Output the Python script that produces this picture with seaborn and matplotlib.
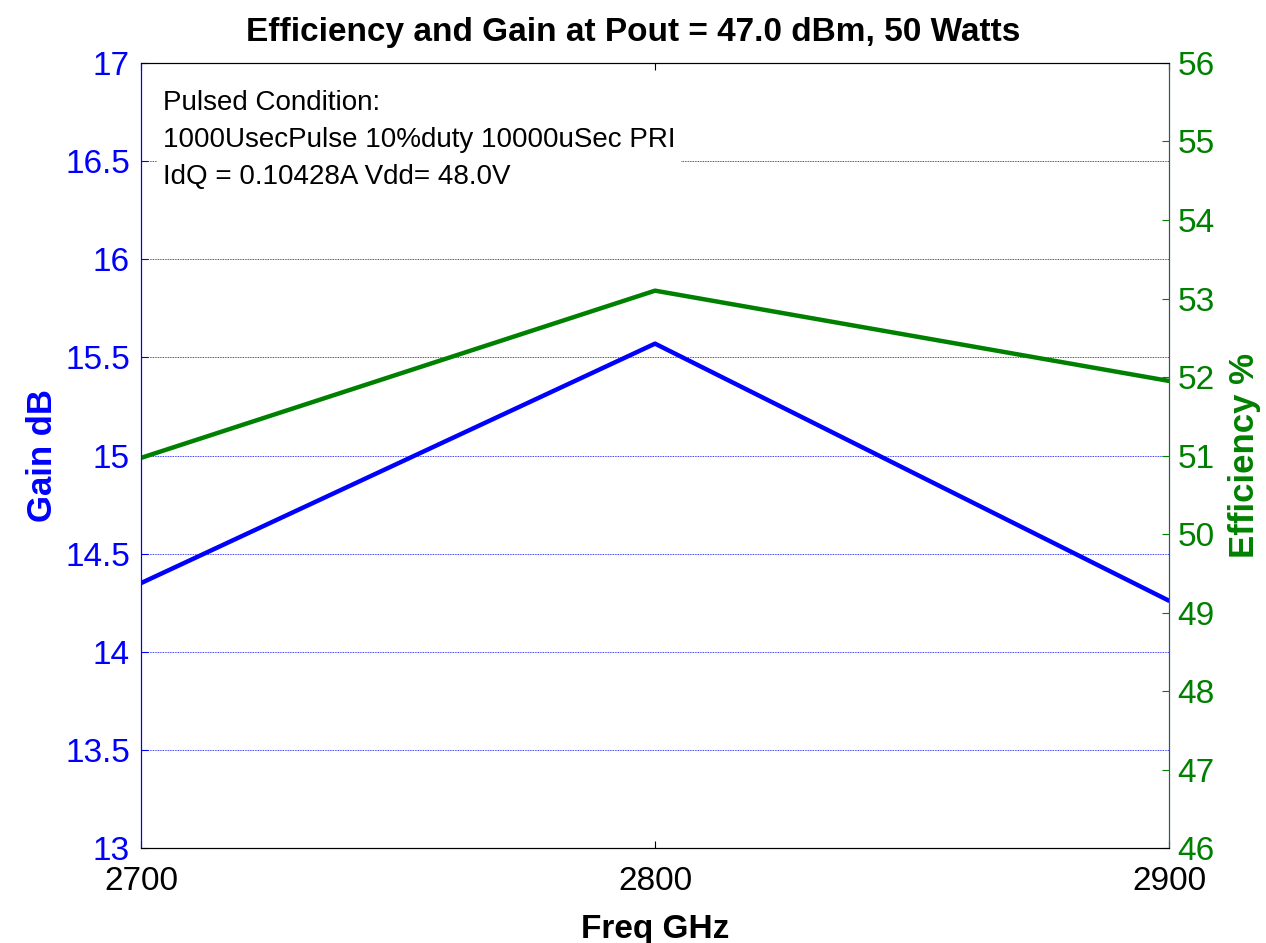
import matplotlib
matplotlib.use("Agg")
import matplotlib.pyplot as plt
import pandas as pd
import seaborn as sns

# values
freq = [2700, 2800, 2900]
gain_db = [14.35, 15.57, 14.26]
efficiency = [50.97, 53.10, 51.95]

gain_ticks = [13, 13.5, 14, 14.5, 15, 15.5, 16, 16.5, 17]
gain_labels = ["13", "13.5", "14", "14.5", "15", "15.5", "16", "16.5", "17"]
eff_ticks = [46, 47, 48, 49, 50, 51, 52, 53, 54, 55, 56]
freq_ticks = [2700, 2800, 2900]

note_lines = [
    "Pulsed Condition:",
    "1000UsecPulse 10%duty 10000uSec PRI",
    "IdQ = 0.10428A Vdd= 48.0V",
]

BLUE = "#0000ff"
GREEN = "#008000"

sns.set_style("white")
plt.rcParams["font.family"] = ["Liberation Sans", "DejaVu Sans"]
plt.rcParams["text.color"] = "black"
plt.rcParams["axes.labelcolor"] = "black"

df = pd.DataFrame({"freq": freq, "gain": gain_db, "eff": efficiency})

fig = plt.figure(figsize=(12.66, 9.43), dpi=100)
ax = fig.add_axes([0.1114, 0.1007, 0.812, 0.8325])

sns.lineplot(data=df, x="freq", y="gain", ax=ax, color=BLUE, linewidth=3.2)
ax.set_xlim(2700, 2900)
ax.set_ylim(13, 17)
ax.set_xticks(freq_ticks)
ax.set_yticks(gain_ticks)
ax.set_yticklabels(gain_labels)
ax.yaxis.grid(True, color=BLUE, linestyle=(0, (1, 1)), linewidth=0.6, zorder=0)
ax.set_axisbelow(True)
ax.tick_params(axis="y", colors=BLUE, labelsize=24, direction="in", length=5,
               right=True, left=True, pad=8)
ax.tick_params(axis="x", colors="black", labelsize=24, direction="in", length=5,
               top=True, bottom=True, pad=13)
ax.set_xlabel("Freq GHz", fontsize=24, fontweight="bold", labelpad=12)
ax.set_ylabel("Gain dB", fontsize=25, fontweight="bold", color=BLUE, labelpad=4)
ax.spines["left"].set_color(BLUE)
for s in ["top", "bottom"]:
    ax.spines[s].set_color("black")

ax.text(0.021, 0.965, "\n".join(note_lines), transform=ax.transAxes,
        fontsize=20, va="top", ha="left", linespacing=1.55, zorder=10,
        bbox=dict(facecolor="white", edgecolor="none", pad=4))

ax2 = ax.twinx()
sns.lineplot(data=df, x="freq", y="eff", ax=ax2, color=GREEN, linewidth=3.2)
ax2.set_ylim(46, 56)
ax2.set_yticks(eff_ticks)
ax2.tick_params(axis="y", colors=GREEN, labelsize=24, direction="in", length=5, pad=6)
ax2.set_ylabel("Efficiency %", fontsize=25, fontweight="bold", color=GREEN, labelpad=10)
ax2.spines["right"].set_color("#1f5f70")
ax2.spines["left"].set_color(BLUE)
ax2.spines["top"].set_color("black")
ax2.spines["bottom"].set_color("black")

fig.suptitle("Efficiency and Gain at Pout = 47.0 dBm, 50 Watts", fontsize=24,
             fontweight="bold", x=0.5, y=0.982)

fig.savefig("out.png", dpi=100)
